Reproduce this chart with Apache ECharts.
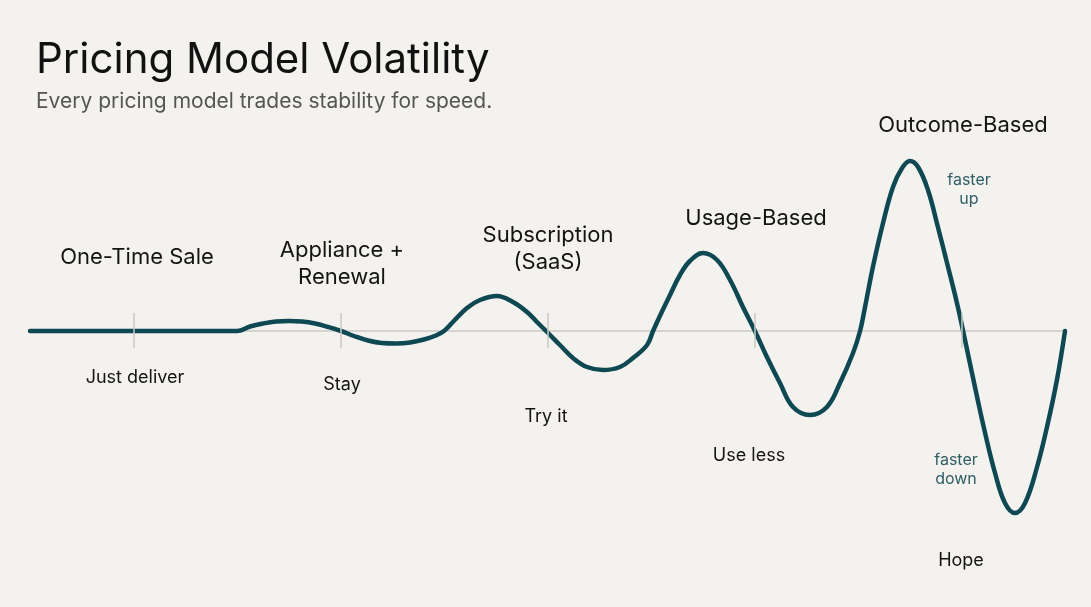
<!DOCTYPE html>
<html>
<head>
<meta charset="utf-8">
<script src="https://cdn.jsdelivr.net/npm/echarts@6/dist/echarts.min.js"></script>
<style>
  html, body { margin: 0; padding: 0; background: #f4f2ee; }
  #chart { width: 1091px; height: 607px; }
</style>
</head>
<body>
<div id="chart"></div>
<script>
const chart = echarts.init(document.getElementById('chart'))

// Pricing models (one per wave) and the customer behaviour each one invites
const models = ['One-Time Sale', 'Appliance +\nRenewal', 'Subscription\n(SaaS)', 'Usage-Based', 'Outcome-Based']
const behaviours = ['Just deliver', 'Stay', 'Try it', 'Use less', 'Hope']
const tickValues = [0.5, 1.5, 2.5, 3.5, 4.5]

// Wave points: [position, swing]
const oneTime = [[0, 0], [0.5, 0], [1, 0]]
const appliance = [
  [1.063, 0.45], [1.126, 0.75], [1.188, 0.95], [1.251, 1.0], [1.314, 0.95], [1.377, 0.75], [1.44, 0.4],
  [1.502, 0], [1.565, -0.5], [1.633, -0.95], [1.7, -1.2], [1.768, -1.25], [1.836, -1.15], [1.903, -0.85],
  [1.961, -0.45], [2.0, 0],
]
const subscription = [
  [2.043, 0.9], [2.111, 2.3], [2.174, 3.1], [2.256, 3.5], [2.333, 2.9], [2.401, 1.9], [2.449, 0.9],
  [2.498, -0.1], [2.56, -1.4], [2.623, -2.7], [2.691, -3.6], [2.768, -3.9], [2.85, -3.6], [2.913, -2.7],
  [2.981, -1.4], [3.01, 0],
]
const usage = [
  [3.043, 1.5], [3.092, 3.6], [3.14, 5.6], [3.188, 7.0], [3.251, 7.8], [3.319, 7.1], [3.382, 5.1],
  [3.444, 2.4], [3.502, 0], [3.56, -2.6], [3.623, -5.2], [3.686, -7.6], [3.768, -8.4], [3.85, -7.6],
  [3.913, -5.2], [3.976, -2.2], [4.01, 0],
]
const outcome = [
  [4.034, 2.4], [4.072, 6.4], [4.121, 10.8], [4.169, 14.4], [4.213, 16.3], [4.251, 17.0], [4.29, 16.4],
  [4.338, 14.1], [4.386, 10.4], [4.435, 6.4], [4.478, 2.8], [4.517, -0.9], [4.565, -5.6], [4.614, -10.2],
  [4.662, -14.2], [4.71, -17.2], [4.758, -18.2], [4.807, -17.2], [4.865, -13.6], [4.913, -9.6],
  [4.961, -4.9], [5.0, 0],
]

const wave = [].concat(oneTime, appliance, subscription, usage, outcome)

// label placement (pixels)
const topLabelPos = [[137, 257], [342, 264], [548, 249], [756, 218], [963, 125]]
const bottomLabelPos = [[135, 378], [342, 385], [546, 417], [749, 456], [961, 561]]

const font = 'Inter, "Noto Sans", sans-serif'
const graphics = []
models.forEach((m, i) => {
  graphics.push({
    type: 'text', x: topLabelPos[i][0], y: topLabelPos[i][1],
    style: { text: m, font: '22px ' + font, fill: '#141414', align: 'center', verticalAlign: 'middle', lineHeight: 27 },
  })
})
behaviours.forEach((b, i) => {
  graphics.push({
    type: 'text', x: bottomLabelPos[i][0], y: bottomLabelPos[i][1],
    style: { text: b, font: '18px ' + font, fill: '#141414', align: 'center', verticalAlign: 'middle' },
  })
})
graphics.push({
  type: 'text', x: 969, y: 190,
  style: { text: 'faster\nup', font: '16px ' + font, fill: '#2f5e65', align: 'center', verticalAlign: 'middle', lineHeight: 19 },
})
graphics.push({
  type: 'text', x: 956, y: 470,
  style: { text: 'faster\ndown', font: '16px ' + font, fill: '#2f5e65', align: 'center', verticalAlign: 'middle', lineHeight: 19 },
})

const option = {
  backgroundColor: '#f4f2ee',
  title: {
    text: 'Pricing Model Volatility',
    subtext: 'Every pricing model trades stability for speed.',
    left: 31,
    top: 34,
    itemGap: 10,
    textStyle: { fontFamily: font, fontSize: 42, fontWeight: 'normal', color: '#111' },
    subtextStyle: { fontFamily: font, fontSize: 21, color: '#555' },
  },
  grid: { left: 30, width: 1035, top: 131, bottom: 76 },
  xAxis: {
    type: 'value',
    min: 0,
    max: 5,
    axisLine: { show: true, onZero: true, lineStyle: { color: '#cbc9c5', width: 1.5 } },
    axisTick: { show: false },
    axisLabel: { show: false },
    splitLine: { show: false },
  },
  yAxis: {
    type: 'value',
    min: -20,
    max: 20,
    show: false,
    splitLine: { show: false },
  },
  graphic: graphics,
  series: [
    {
      type: 'line',
      data: wave,
      smooth: 0.4,
      showSymbol: false,
      silent: true,
      z: 3,
      lineStyle: { color: '#0d4853', width: 4.5, cap: 'round' },
      markLine: {
        silent: true,
        symbol: 'none',
        label: { show: false },
        lineStyle: { color: '#cbc9c5', width: 1.5, type: 'solid' },
        data: tickValues.map((t) => [{ coord: [t, 1.8] }, { coord: [t, -1.7] }]),
      },
    },
  ],
}

chart.setOption(option)
</script>
</body>
</html>
